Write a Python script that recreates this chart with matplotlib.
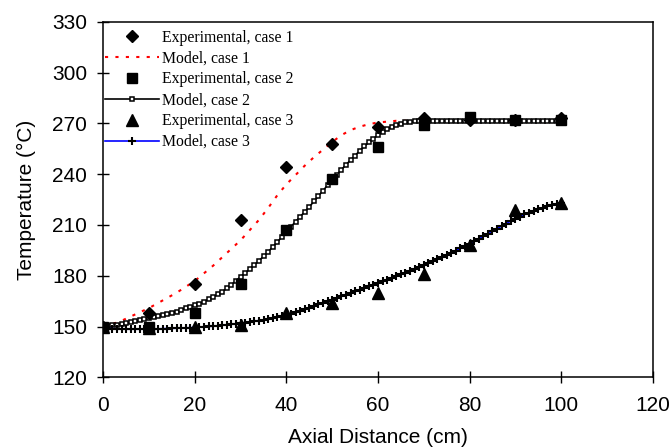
import numpy as np
import matplotlib.pyplot as plt

x_exp = [0, 10, 20, 30, 40, 50, 60, 70, 80, 90, 100]
exp_case1 = [150, 158, 175, 213, 244, 258, 268, 273, 272, 272, 273]
exp_case2 = [150, 150, 158, 175, 207, 237, 256, 269, 274, 272, 272]
exp_case3 = [150, 149, 150, 151, 158, 164, 170, 181, 198, 219, 223]

# Model case 1 (every 2 cm)
x_mod1 = list(range(0, 101, 2))
mod_case1 = [150, 151.5, 153.5, 156, 158.5, 161, 164, 167, 170, 173.5,
             177, 181.5, 186, 191, 196, 201, 207, 213, 220, 227.5,
             234, 239.5, 245, 250, 254.5, 259, 263, 266, 268, 269.5,
             270.5, 271, 271.5, 271.5, 271.5, 271.5, 271.5, 271.5, 271.5, 271.5,
             271.5, 271.5, 271.5, 271.5, 271.5, 271.5, 271.5, 271.5, 271.5, 271.5,
             271.5]

# Model case 2 and 3 (every 1 cm)
x_mod = list(range(0, 101))
mod_case2 = [150.0, 150.3, 150.7, 151.1, 151.5, 152.0, 152.5, 153.1, 153.7, 154.3,
             155.0, 155.6, 156.2, 156.8, 157.4, 158.0, 158.9, 159.9, 160.9, 161.7,
             162.5, 163.6, 164.8, 166.1, 167.5, 169.0, 170.7, 172.6, 174.8, 177.1,
             179.5, 181.7, 184.0, 186.4, 188.9, 191.5, 194.2, 197.0, 199.9, 202.9,
             206.0, 209.0, 212.0, 214.9, 217.8, 220.7, 223.9, 227.1, 230.3, 233.5,
             236.6, 239.6, 242.6, 245.5, 248.3, 251.0, 253.8, 256.4, 258.8, 261.0,
             263.0, 265.0, 266.6, 267.9, 269.0, 269.9, 270.5, 270.9, 271.2, 271.4,
             271.5, 271.5, 271.5, 271.5, 271.5, 271.5, 271.5, 271.5, 271.5, 271.5,
             271.5, 271.5, 271.5, 271.5, 271.5, 271.5, 271.5, 271.5, 271.5, 271.5,
             271.5, 271.5, 271.5, 271.5, 271.5, 271.5, 271.5, 271.5, 271.5, 271.5,
             271.5]
mod_case3 = [149.0, 148.9, 148.8, 148.7, 148.6, 148.5, 148.5, 148.5, 148.5, 148.5,
             148.5, 148.6, 148.7, 148.8, 148.9, 149.0, 149.1, 149.2, 149.3, 149.4,
             149.5, 149.7, 149.9, 150.1, 150.3, 150.5, 150.8, 151.1, 151.4, 151.7,
             152.0, 152.4, 152.8, 153.2, 153.6, 154.0, 154.5, 155.0, 155.6, 156.2,
             156.8, 157.7, 158.6, 159.5, 160.4, 161.3, 162.2, 163.1, 164.0, 164.9,
             165.8, 166.8, 167.8, 168.8, 169.8, 170.8, 171.8, 172.8, 173.8, 174.8,
             175.7, 176.7, 177.7, 178.7, 179.7, 180.8, 181.9, 183.0, 184.1, 185.2,
             186.3, 187.5, 188.7, 189.9, 191.1, 192.3, 193.6, 194.9, 196.2, 197.5,
             198.8, 200.3, 201.8, 203.3, 204.8, 206.3, 207.8, 209.3, 210.8, 212.3,
             213.8, 215.0, 216.2, 217.3, 218.3, 219.3, 220.2, 221.0, 221.8, 222.5,
             223.2]

x_ticks = [0, 20, 40, 60, 80, 100, 120]
y_ticks = [120, 150, 180, 210, 240, 270, 300, 330]

plt.rcParams['font.family'] = ['Liberation Sans', 'DejaVu Sans']

fig = plt.figure(figsize=(6.71, 4.48), dpi=100)
ax = fig.add_axes([0.1539, 0.1574, 0.8188, 0.7942])

l_m1, = ax.plot(x_mod1, mod_case1, color='red', lw=1.5, dashes=(1.5, 3.5),
                label='Model, case 1')
l_m2, = ax.plot(x_mod, mod_case2, color='black', lw=1.2, marker='s', ms=3.4,
                mfc='white', mec='black', mew=1.1, label='Model, case 2')
l_m3, = ax.plot(x_mod, mod_case3, color='blue', lw=1.2, marker='+', ms=6,
                mec='black', mew=1.5, label='Model, case 3')
l_e1, = ax.plot(x_exp, exp_case1, 'D', color='black', ms=6.5,
                label='Experimental, case 1')
l_e2, = ax.plot(x_exp, exp_case2, 's', color='black', ms=7,
                label='Experimental, case 2')
l_e3, = ax.plot(x_exp, exp_case3, '^', color='black', ms=8,
                label='Experimental, case 3')

ax.set_xlim(0, 120)
ax.set_ylim(120, 330)
ax.set_xticks(x_ticks)
ax.set_yticks(y_ticks)
ax.tick_params(direction='inout', length=9, width=1.0, labelsize=15)
ax.tick_params(axis='x', pad=9)
ax.tick_params(axis='y', pad=7)
for s in ax.spines.values():
    s.set_linewidth(1.1)

ax.set_xlabel('Axial Distance (cm)', fontsize=15, labelpad=9)
ax.set_ylabel('Temperature (\u00b0C)', fontsize=15, labelpad=12)

leg = ax.legend(handles=[l_e1, l_m1, l_e2, l_m2, l_e3, l_m3],
                loc='upper left', bbox_to_anchor=(-0.008, 0.995), frameon=False,
                prop={'family': 'Liberation Serif', 'size': 11.3},
                handlelength=3.4, handletextpad=0.25, labelspacing=0.31,
                borderaxespad=0.0, numpoints=1)

fig.savefig('out.png', dpi=100)
